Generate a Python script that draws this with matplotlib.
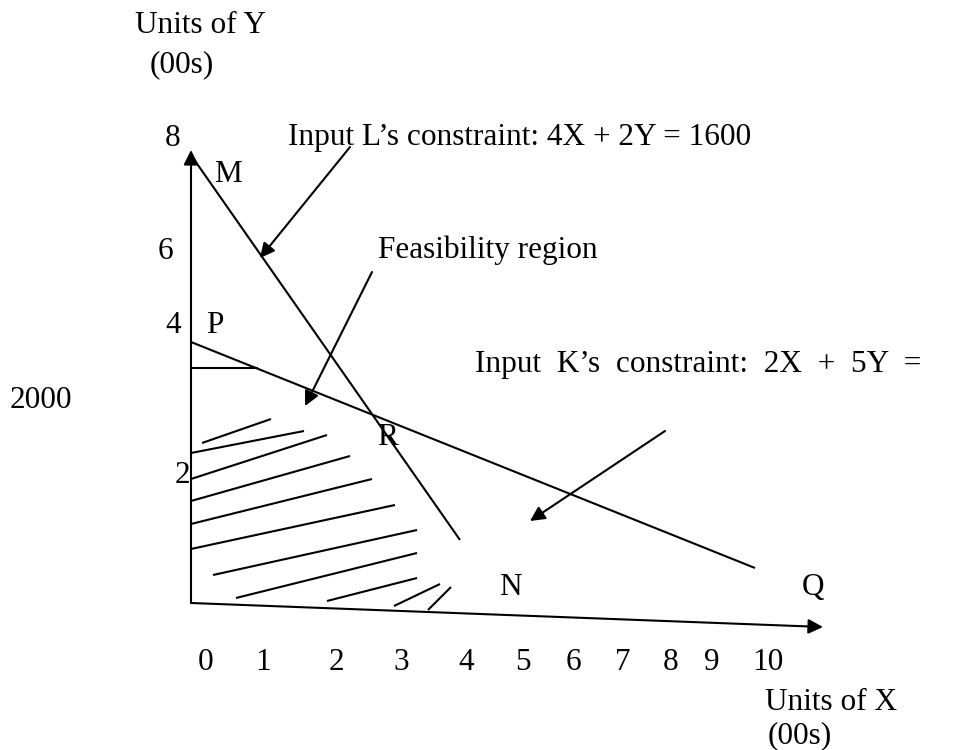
import matplotlib.pyplot as plt

plt.rcParams['font.family'] = ['Liberation Serif', 'DejaVu Serif']

# Sketch is not drawn to scale, so everything lives in page (pixel) space
# axes: origin and arrow tips
y_axis = [(191, 603), (191, 150)]
x_axis = [(191, 603), (823, 627)]

# constraint lines
line_L = [(193, 158), (460, 540)]   # 4X + 2Y = 1600
line_K = [(191, 342), (755, 568)]   # 2X + 5Y = 2000
short_tick = [(191, 368), (258, 368)]

# hatching of the feasibility region
hatch = [
    [(202, 443), (271, 419)],
    [(191, 453), (304, 431)],
    [(191, 479), (327, 435)],
    [(191, 501), (350, 456)],
    [(191, 524), (372, 479)],
    [(191, 549), (395, 505)],
    [(213, 575), (417, 530)],
    [(236, 598), (417, 553)],
    [(327, 601), (417, 578)],
    [(394, 606), (440, 584)],
    [(428, 610), (451, 587)],
]

# pointer arrows (start, tip)
pointers = [
    [(350, 147), (260, 258)],
    [(372, 272), (305, 406)],
    [(665, 431), (530, 521)],
]

# tick labels
y_ticks = ['8', '6', '4', '2']
y_tick_pos = [(173, 146), (165, 259), (173, 333), (182, 483)]
x_ticks = ['0', '1', '2', '3', '4', '5', '6', '7', '8', '9', '10']
x_tick_x = [206, 263, 336, 401, 466, 523, 573, 623, 671, 712, 768]

# point letters
points = ['M', 'P', 'R', 'N', 'Q']
point_pos = [(228, 182), (215, 333), (387, 445), (510, 595), (813, 595)]

# free text (left x, baseline y)
notes = [
    ('Units of Y', 135, 33),
    ('(00s)', 150, 72),
    ('Input L\u2019s constraint: 4X + 2Y = 1600', 288, 145),
    ('Feasibility region', 378, 258),
    ('Input  K\u2019s  constraint:  2X  +  5Y  =', 475, 372),
    ('2000', 10, 408),
    ('Units of X', 765, 710),
    ('(00s)', 768, 743),
]

FS = 22.5

fig = plt.figure(figsize=(9.63, 7.5), dpi=100)
ax = fig.add_axes([0, 0, 1, 1])
ax.set_xlim(0, 963)
ax.set_ylim(750, 0)
ax.axis('off')

def arrow(start, tip):
    ax.annotate('', xy=tip, xytext=start,
                arrowprops=dict(arrowstyle='-|>', lw=1.5, color='black',
                                mutation_scale=22, shrinkA=0, shrinkB=0))

def seg(pts, lw=1.5):
    xs, ys = zip(*pts)
    ax.plot(xs, ys, color='black', lw=lw, solid_capstyle='butt')

arrow(*y_axis)
arrow(*x_axis)
seg(line_L)
seg(line_K)
seg(short_tick)
for h in hatch:
    seg(h)
for start, tip in pointers:
    arrow(start, tip)

for lab, (x, y) in zip(y_ticks, y_tick_pos):
    ax.text(x, y, lab, fontsize=FS, ha='center', va='baseline')
for lab, x in zip(x_ticks, x_tick_x):
    ax.text(x, 670, lab, fontsize=FS, ha='center', va='baseline')
for lab, (x, y) in zip(points, point_pos):
    ax.text(x, y, lab, fontsize=FS, ha='center', va='baseline')
for txt, x, y in notes:
    ax.text(x, y, txt, fontsize=FS, ha='left', va='baseline')

fig.savefig('out.png', dpi=100)
plt.close(fig)
